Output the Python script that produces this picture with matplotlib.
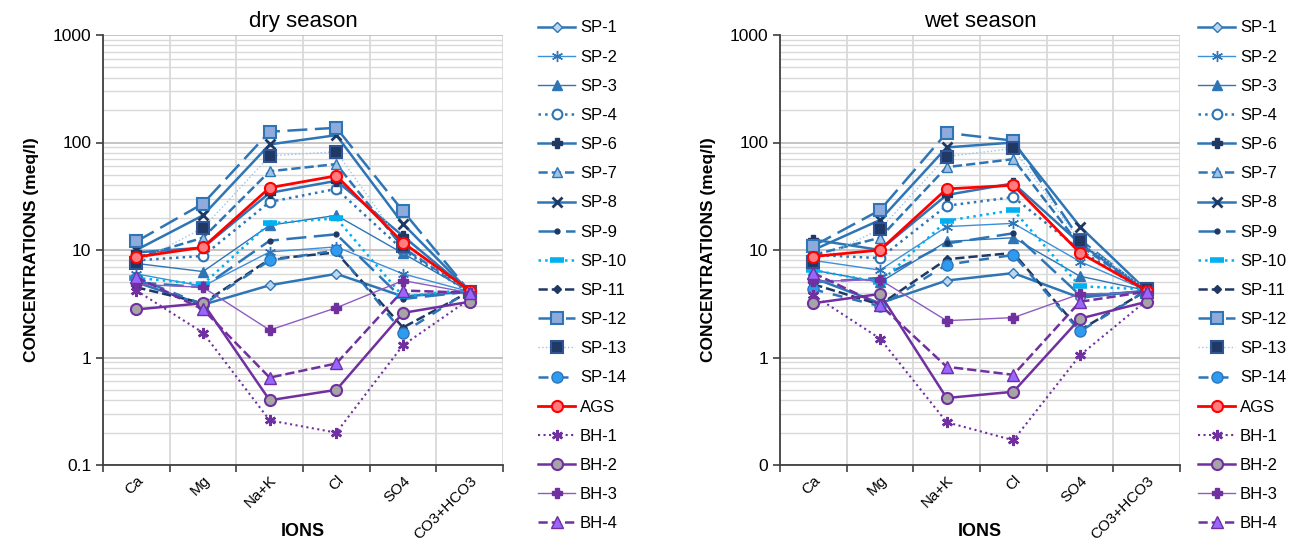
import numpy as np
import matplotlib
matplotlib.use('Agg')
import matplotlib.pyplot as plt
from matplotlib.ticker import FixedLocator, FixedFormatter, LogLocator, NullFormatter

plt.rcParams['font.family'] = ['Liberation Sans', 'DejaVu Sans']

ions = ['Ca', 'Mg', 'Na+K', 'Cl', 'SO4', 'CO3+HCO3']
names = ['SP-1', 'SP-2', 'SP-3', 'SP-4', 'SP-6', 'SP-7', 'SP-8', 'SP-9', 'SP-10',
         'SP-11', 'SP-12', 'SP-13', 'SP-14', 'AGS', 'BH-1', 'BH-2', 'BH-3', 'BH-4']

# meq/l, order: Ca, Mg, Na+K, Cl, SO4, CO3+HCO3
dry = {
    'SP-1':  [5.0, 3.1, 4.7, 6.0, 3.7, 4.1],
    'SP-2':  [6.0, 4.6, 9.6, 10.7, 6.0, 4.1],
    'SP-3':  [7.5, 6.3, 17.0, 21.0, 9.3, 4.1],
    'SP-4':  [8.0, 8.8, 28.0, 37.0, 10.0, 4.0],
    'SP-6':  [9.5, 10.5, 34.0, 44.0, 13.5, 4.1],
    'SP-7':  [8.5, 13.0, 54.0, 63.0, 10.5, 4.1],
    'SP-8':  [10.0, 21.0, 96.0, 117.0, 17.5, 4.1],
    'SP-9':  [5.0, 4.5, 12.2, 14.0, 3.5, 4.1],
    'SP-10': [5.5, 4.8, 17.7, 19.7, 3.7, 4.3],
    'SP-11': [4.5, 3.2, 8.2, 9.5, 1.9, 4.1],
    'SP-12': [12.0, 27.0, 126.0, 137.0, 23.0, 4.1],
    'SP-13': [7.6, 16.0, 75.0, 82.0, 11.0, 4.1],
    'SP-14': [5.5, 3.1, 8.0, 9.9, 1.7, 4.2],
    'AGS':   [8.6, 10.6, 38.0, 49.0, 11.7, 4.2],
    'BH-1':  [4.2, 1.7, 0.26, 0.2, 1.3, 3.5],
    'BH-2':  [2.8, 3.2, 0.4, 0.5, 2.6, 3.3],
    'BH-3':  [4.8, 4.5, 1.8, 2.9, 5.2, 4.0],
    'BH-4':  [5.6, 2.8, 0.65, 0.88, 4.2, 4.0],
}

wet = {
    'SP-1':  [5.5, 3.2, 5.2, 6.1, 3.6, 4.2],
    'SP-2':  [8.0, 6.5, 16.5, 17.7, 7.8, 4.2],
    'SP-3':  [6.5, 5.0, 12.0, 13.0, 5.7, 4.2],
    'SP-4':  [9.0, 8.4, 25.8, 31.0, 10.0, 4.0],
    'SP-6':  [12.5, 10.0, 32.5, 41.7, 11.5, 4.2],
    'SP-7':  [9.0, 13.0, 59.0, 70.0, 11.0, 4.1],
    'SP-8':  [10.0, 19.0, 90.0, 100.0, 16.5, 4.2],
    'SP-9':  [5.0, 5.5, 11.5, 14.3, 3.8, 4.1],
    'SP-10': [6.5, 5.0, 18.7, 23.5, 4.6, 4.3],
    'SP-11': [4.8, 3.1, 8.2, 9.4, 1.8, 4.2],
    'SP-12': [10.9, 23.5, 123.0, 104.0, 12.5, 4.1],
    'SP-13': [7.8, 15.6, 74.0, 88.0, 12.0, 4.3],
    'SP-14': [4.3, 3.0, 7.3, 9.0, 1.75, 4.2],
    'AGS':   [8.7, 10.0, 37.0, 40.0, 9.4, 4.2],
    'BH-1':  [3.8, 1.5, 0.25, 0.17, 1.05, 3.4],
    'BH-2':  [3.2, 3.9, 0.42, 0.48, 2.3, 3.3],
    'BH-3':  [5.1, 5.3, 2.2, 2.35, 3.9, 4.0],
    'BH-4':  [6.1, 3.1, 0.82, 0.69, 3.3, 4.1],
}

blue = '#2E75B6'
navy = '#1F3864'
purple = '#7030A0'
styles = {
    'SP-1':  dict(color=blue, ls='-', lw=1.8, marker='D', ms=5, mfc='#BDD7EE', mec=blue),
    'SP-2':  dict(color='#3C8FD9', ls='-', lw=1.0, marker=(6, 2, 0), ms=8, mfc=blue, mec=blue),
    'SP-3':  dict(color=blue, ls='-', lw=1.0, marker='^', ms=7, mfc=blue, mec=blue),
    'SP-4':  dict(color=blue, ls=':', lw=1.8, marker='o', ms=7, mfc='white', mec=blue, mew=1.5),
    'SP-6':  dict(color=blue, ls='-', lw=1.8, marker='P', ms=7, mfc=navy, mec=navy),
    'SP-7':  dict(color=blue, ls='--', lw=1.8, marker='^', ms=7, mfc='#9DC3E6', mec=blue),
    'SP-8':  dict(color=blue, ls='-', lw=1.8, marker='x', ms=7, mfc=navy, mec=navy, mew=2),
    'SP-9':  dict(color=blue, ls=(0, (8, 3)), lw=1.8, marker='o', ms=3.5, mfc=navy, mec=navy),
    'SP-10': dict(color='#00B0F0', ls=':', lw=1.8, marker='_', ms=10, mfc='#00B0F0', mec='#00B0F0', mew=4),
    'SP-11': dict(color=navy, ls='--', lw=1.8, marker='D', ms=4.5, mfc=navy, mec=navy),
    'SP-12': dict(color=blue, ls=(0, (8, 3)), lw=1.8, marker='s', ms=8, mfc='#8FAADC', mec=blue, mew=1.5),
    'SP-13': dict(color='#9DC3E6', ls=':', lw=1.0, marker='s', ms=8, mfc='#203864', mec='#2F5597', mew=1.5),
    'SP-14': dict(color=blue, ls=(0, (4, 4)), lw=1.8, marker='o', ms=8, mfc='#2E9BF0', mec=blue),
    'AGS':   dict(color='#FF0000', ls='-', lw=2.0, marker='o', ms=8, mfc='#FF7C80', mec='#FF0000', mew=1.5),
    'BH-1':  dict(color=purple, ls=':', lw=1.5, marker=(6, 2, 0), ms=8, mfc=purple, mec=purple, mew=1.8),
    'BH-2':  dict(color=purple, ls='-', lw=1.8, marker='o', ms=8, mfc='#A5A5A5', mec=purple, mew=1.5),
    'BH-3':  dict(color='#8E5CC2', ls='-', lw=1.0, marker='P', ms=7, mfc=purple, mec=purple),
    'BH-4':  dict(color=purple, ls='--', lw=1.8, marker='^', ms=8, mfc='#9966FF', mec=purple),
}

fig = plt.figure(figsize=(13.1, 5.41), dpi=100)
ax1 = fig.add_axes([103 / 1310, 1 - 465 / 541, 400 / 1310, 430 / 541])
ax2 = fig.add_axes([780 / 1310, 1 - 465 / 541, 400 / 1310, 430 / 541])

x = np.arange(len(ions))


def draw(ax, data, title, ylabels, legx):
    for n in names:
        ax.plot(x, data[n], label=n, **styles[n])
    ax.set_yscale('log')
    ax.set_ylim(0.1, 1000)
    ax.set_xlim(-0.5, len(ions) - 0.5)
    ax.yaxis.set_major_locator(FixedLocator([0.1, 1, 10, 100, 1000]))
    ax.yaxis.set_major_formatter(FixedFormatter(ylabels))
    ax.yaxis.set_minor_locator(LogLocator(base=10, subs=np.arange(2, 10)))
    ax.yaxis.set_minor_formatter(NullFormatter())
    ax.set_xticks(x)
    ax.set_xticklabels(ions, rotation=45, fontsize=11)
    ax.set_xticks(np.arange(len(ions) + 1) - 0.5, minor=True)
    ax.tick_params(axis='x', which='major', length=0, pad=6)
    ax.tick_params(axis='x', which='minor', length=5, width=1.2, color='#404040')
    ax.tick_params(axis='y', which='major', length=5, width=1.2, color='#404040', labelsize=12.5)
    ax.tick_params(axis='y', which='minor', length=0)
    ax.grid(True, axis='y', which='major', color='#BFBFBF', lw=1.3)
    ax.grid(True, axis='y', which='minor', color='#D9D9D9', lw=1.0)
    ax.grid(True, axis='x', which='minor', color='#D9D9D9', lw=1.3)
    ax.set_axisbelow(True)
    for s in ['top', 'right']:
        ax.spines[s].set_visible(False)
    for s in ['left', 'bottom']:
        ax.spines[s].set_color('#404040')
        ax.spines[s].set_linewidth(1.3)
    for lab in ax.get_xticklabels():
        lab.set_ha('right')
        lab.set_rotation_mode('anchor')
    ax.set_title(title, fontsize=16, pad=6)
    ax.set_ylabel('CONCENTRATIONS (meq/l)', fontsize=12.5, fontweight='bold', labelpad=10)
    ax.set_xlabel('IONS', fontsize=13, fontweight='bold', labelpad=0)
    ax.xaxis.set_label_coords(0.5, -0.135)
    ax.legend(loc='upper left', bbox_to_anchor=(legx, 1 - 12 / 541), bbox_transform=fig.transFigure,
              frameon=False, fontsize=12, handlelength=2.2, handletextpad=0.3,
              labelspacing=0.85, borderpad=0)


draw(ax1, dry, 'dry season', ['0.1', '1', '10', '100', '1000'], 530 / 1310)
draw(ax2, wet, 'wet season', ['0', '1', '10', '100', '1000'], 1190 / 1310)

fig.savefig('out.png', dpi=100)
